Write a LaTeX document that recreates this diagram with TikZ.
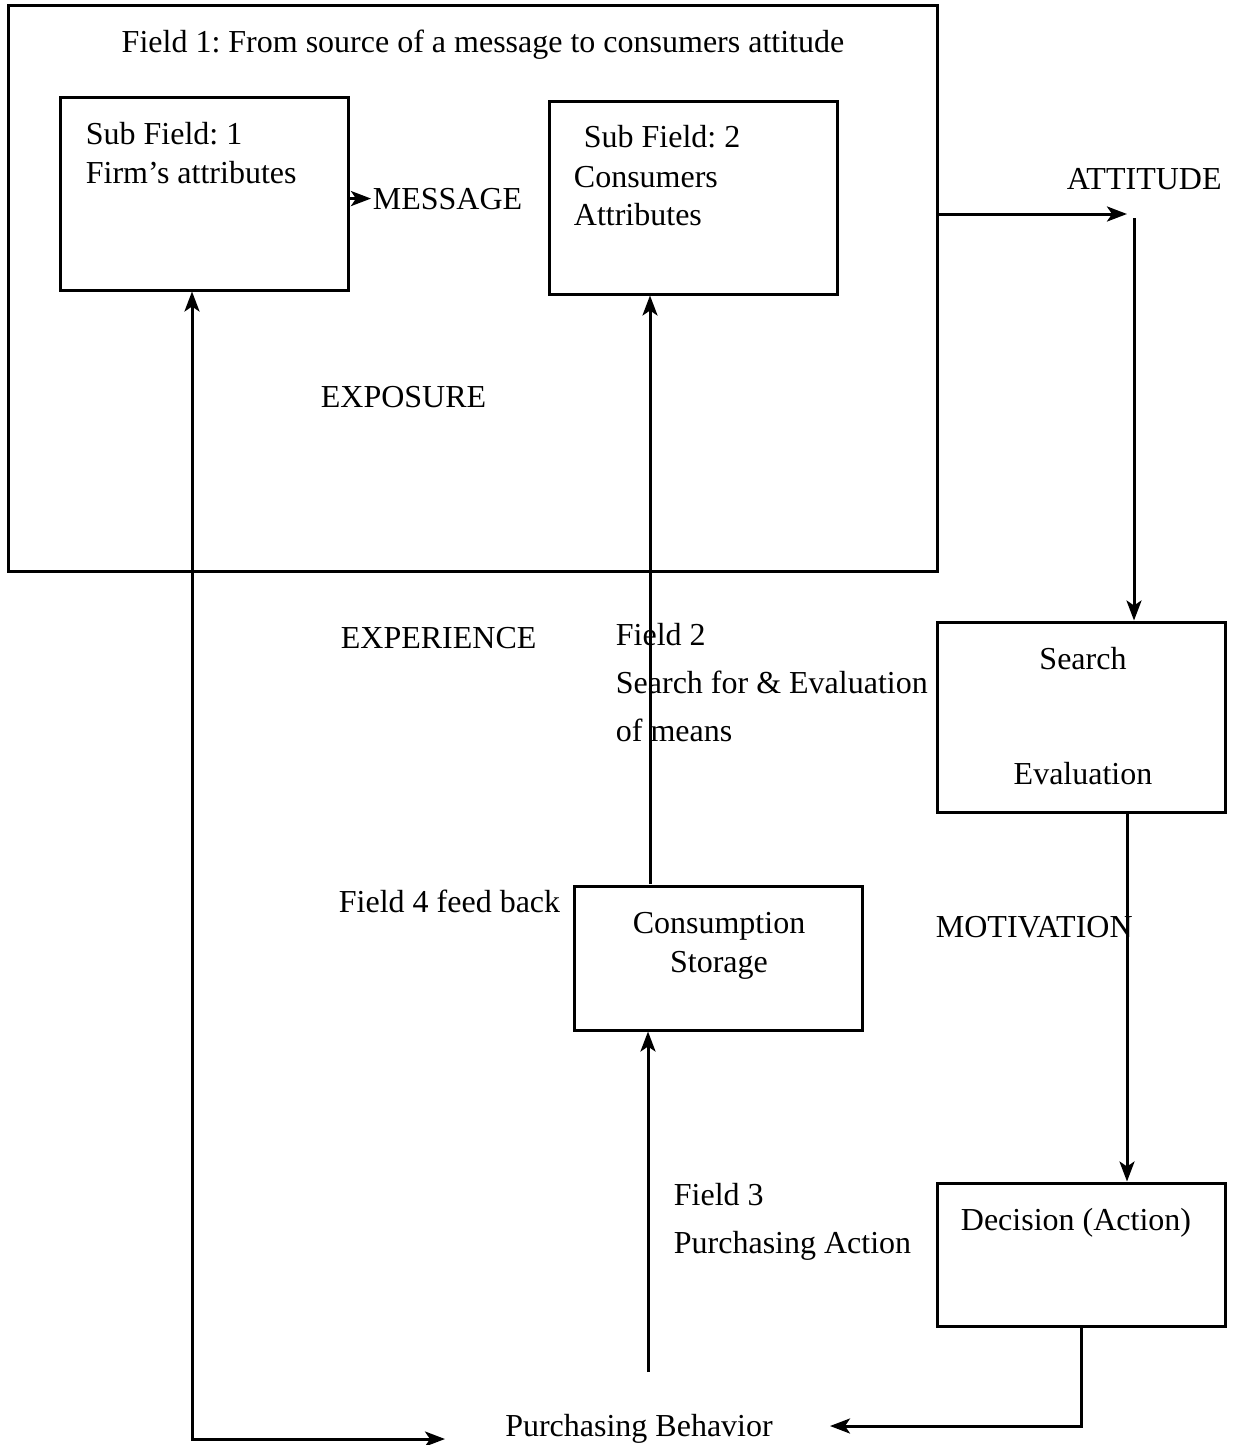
\documentclass[tikz,border=0pt]{standalone}
\usepackage{fontspec}
\setmainfont{Liberation Serif}
\usetikzlibrary{arrows.meta}
\frenchspacing

\tikzset{
  box/.style={draw, line width=1.5pt, inner sep=0pt},
  lbl/.style={inner sep=0.75pt, font=\fontsize{16}{19.5}\selectfont},
  tip/.tip={Stealth[length=10pt,width=7.5pt,inset=2.5pt]},
  arr/.style={-tip, line width=1.5pt},
}

\begin{document}
\begin{tikzpicture}[x=0.5pt,y=0.5pt,yscale=-1,xscale=1]
\useasboundingbox (0,0) rectangle (1234,1445);
%Boxes
\node (field1) [box, minimum width=464.5pt, minimum height=282.5pt] at (472.5,288.5) {};
\node (sub1) [box, minimum width=144pt, minimum height=96pt] at (204,194) {};
\node (sub2) [box, minimum width=144pt, minimum height=96pt] at (693,198) {};
\node (search) [box, minimum width=144pt, minimum height=95pt] at (1081,717) {};
\node (storage) [box, minimum width=144pt, minimum height=72pt] at (718,958) {};
\node (decision) [box, minimum width=144pt, minimum height=71.5pt] at (1081,1254.5) {};
%Text
\node (title) [lbl, anchor=base] at (483,53) {Field 1: From source of a message to consumers attitude};
\node (sub1a) [lbl, anchor=base west] at (84,145) {Sub Field: 1};
\node (sub1b) [lbl, anchor=base west] at (84,184) {Firm’s attributes};
\node (sub2a) [lbl, anchor=base west] at (582,148) {Sub Field: 2};
\node (sub2b) [lbl, anchor=base west] at (572,187) {Consumers};
\node (sub2c) [lbl, anchor=base west] at (572,225) {Attributes};
\node (msg) [lbl, anchor=base west] at (371,209) {MESSAGE};
\node (expo) [lbl, anchor=base west] at (319,407) {EXPOSURE};
\node (att) [lbl, anchor=base west] at (1065,189) {ATTITUDE};
\node (exper) [lbl, anchor=base west] at (339,648) {EXPERIENCE};
\node (f2a) [lbl, anchor=base west] at (614,645) {Field 2};
\node (f2b) [lbl, anchor=base west] at (614,693) {Search for \& Evaluation};
\node (f2c) [lbl, anchor=base west] at (614,741) {of means};
\node (srch) [lbl, anchor=base] at (1083,669) {Search};
\node (eval) [lbl, anchor=base] at (1083,784) {Evaluation};
\node (f4) [lbl, anchor=base west] at (337,912) {Field 4 feed back};
\node (cons) [lbl, anchor=base] at (719,933) {Consumption};
\node (stor) [lbl, anchor=base] at (719,972) {Storage};
\node (motiv) [lbl, anchor=base west] at (934,937) {MOTIVATION};
\node (f3a) [lbl, anchor=base west] at (672,1205) {Field 3};
\node (f3b) [lbl, anchor=base west] at (672,1253) {Purchasing Action};
\node (dec) [lbl, anchor=base] at (1076,1230) {Decision (Action)};
\node (beh) [lbl, anchor=base] at (639,1436) {Purchasing Behavior};
%Connector ends
\coordinate (attin) at (1127,214);
\coordinate (attout) at (1134,218);
\coordinate (fb2) at (650,884);
\coordinate (motx) at (1127,0);
\coordinate (buy) at (648,1372);
\coordinate (behin) at (830,1426);
\coordinate (fb) at (192,1439);
\coordinate (behleft) at (445,1439);
%Arrows
\draw [arr] (sub1.east |- msg.west) -- (msg.west);
\draw [arr] (field1.east |- attin) -- (attin);
\draw [arr] (attout) -- (attout |- search.north);
\draw [arr] (fb2) -- (fb2 |- sub2.south);
\draw [arr] (search.south -| motx) -- (decision.north -| motx);
\draw [arr] (decision.south) |- (behin);
\draw [arr] (buy) -- (buy |- storage.south);
\draw [tip-tip, line width=1.5pt] (fb |- sub1.south) -- (fb) -- (behleft);
\end{tikzpicture}
\end{document}
